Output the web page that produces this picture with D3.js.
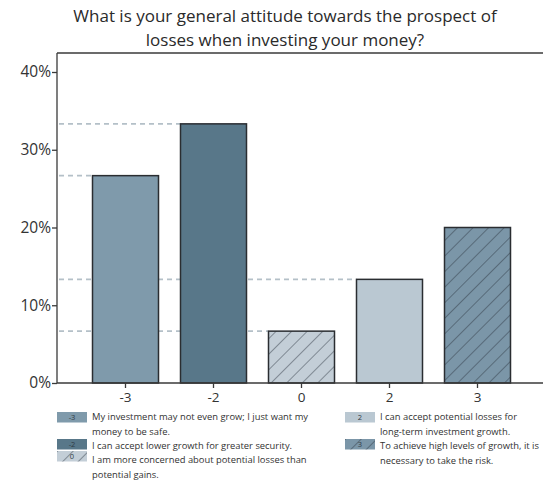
<!DOCTYPE html>
<html>
<head>
<meta charset="utf-8">
<script src="https://cdn.jsdelivr.net/npm/d3@7"></script>
<style>
  body { margin: 0; background: #fff; }
  svg { display: block; font-family: "Open Sans", "Noto Sans", sans-serif; }
</style>
</head>
<body>
<svg id="chart" width="543" height="483"></svg>
<script>
// Survey answers on a -3..3 attitude scale (share of respondents)
const categories = ["-3", "-2", "0", "2", "3"];
const shares = [26.67, 33.33, 6.67, 13.33, 20.0];
const yTicks = [0, 10, 20, 30, 40];
const titleLines = [
  "What is your general attitude towards the prospect of",
  "losses when investing your money?"
];
const legendText = [
  ["My investment may not even grow; I just want my", "money to be safe."],
  ["I can accept lower growth for greater security."],
  ["I am more concerned about potential losses than", "potential gains."],
  ["I can accept potential losses for", "long-term investment growth."],
  ["To achieve high levels of growth, it is", "necessary to take the risk."]
];
// which answers get a dashed guide back to the axis
const guideCats = ["-3", "-2", "0", "2"];

const fills = { "-3": "#7f9aab", "-2": "#587789", "0": "#c3ced7", "2": "#bac8d2", "3": "#7b96a8" };
const hatched = { "0": true, "3": true };

const svg = d3.select("#chart");
const plotLeft = 57, plotTop = 53, plotRight = 543, plotBottom = 383;

const defs = svg.append("defs");
const hatch = defs.append("pattern")
  .attr("id", "hatch").attr("patternUnits", "userSpaceOnUse")
  .attr("width", 11).attr("height", 11)
  .attr("patternTransform", "rotate(45)");
hatch.append("line").attr("x1", 0).attr("y1", 0).attr("x2", 0).attr("y2", 11)
  .attr("stroke", "#2b3540").attr("stroke-width", 0.9);

const x = d3.scaleBand().domain(categories).range([81.5, 521.5])
  .paddingInner(0.25).paddingOuter(0.125);
const y = d3.scaleLinear().domain([0, 40]).range([plotBottom, 72]);

// title
svg.append("g").selectAll("text").data(titleLines).join("text")
  .attr("x", 285).attr("y", (d, i) => 22 + i * 24)
  .attr("text-anchor", "middle").attr("font-size", 17).attr("fill", "#2a2a2a")
  .text(d => d);

// dashed guides from the axis to each bar's top
const data = categories.map((c, i) => ({ c, v: shares[i] }));
svg.append("g").selectAll("line").data(data.filter(d => guideCats.includes(d.c))).join("line")
  .attr("x1", plotLeft + 2).attr("x2", d => x(d.c))
  .attr("y1", d => y(d.v)).attr("y2", d => y(d.v))
  .attr("stroke", "#b4c0c8").attr("stroke-width", 1.6).attr("stroke-dasharray", "5,4");

// bars
const bars = svg.append("g");
bars.selectAll("rect.base").data(data).join("rect").attr("class", "base")
  .attr("x", d => x(d.c)).attr("width", x.bandwidth())
  .attr("y", d => y(d.v)).attr("height", d => y(0) - y(d.v))
  .attr("fill", d => fills[d.c]);
bars.selectAll("rect.hatch").data(data.filter(d => hatched[d.c])).join("rect").attr("class", "hatch")
  .attr("x", d => x(d.c)).attr("width", x.bandwidth())
  .attr("y", d => y(d.v)).attr("height", d => y(0) - y(d.v))
  .attr("fill", "url(#hatch)");
bars.selectAll("rect.edge").data(data).join("rect").attr("class", "edge")
  .attr("x", d => x(d.c)).attr("width", x.bandwidth())
  .attr("y", d => y(d.v)).attr("height", d => y(0) - y(d.v))
  .attr("fill", "none").attr("stroke", "#2a2d31").attr("stroke-width", 1.5);

// frame line along the top
svg.append("line").attr("x1", plotLeft).attr("x2", plotRight).attr("y1", plotTop).attr("y2", plotTop)
  .attr("stroke", "#3a3a3a").attr("stroke-width", 1.3);

// y axis
const yAxis = svg.append("g").attr("transform", `translate(${plotLeft},0)`)
  .call(d3.axisLeft(y).tickValues(yTicks).tickFormat(d => d + "%").tickSize(5).tickPadding(1));
yAxis.select(".domain").attr("d", `M0,${plotTop}V${plotBottom}`);
yAxis.selectAll("path, line").attr("stroke", "#3a3a3a").attr("stroke-width", 1.3);
yAxis.selectAll("text").attr("font-size", 15.5).attr("fill", "#333").attr("font-family", "Open Sans, sans-serif");

// x axis
const xAxis = svg.append("g").attr("transform", `translate(0,${plotBottom})`)
  .call(d3.axisBottom(x).tickSize(5).tickPadding(4));
xAxis.select(".domain").attr("d", `M${plotLeft},0H${plotRight}`);
xAxis.selectAll("path, line").attr("stroke", "#3a3a3a").attr("stroke-width", 1.3);
xAxis.selectAll("text").attr("font-size", 13.5).attr("fill", "#333").attr("font-family", "Open Sans, sans-serif");

// legend: swatch position and first-line baseline per entry
const legendPos = [
  { x: 57, y: 412, t: 420 }, { x: 57, y: 439, t: 449 }, { x: 57, y: 451, t: 463 },
  { x: 345, y: 412, t: 420 }, { x: 345, y: 439, t: 449 }
];
const leg = svg.append("g");
categories.forEach((c, i) => {
  const p = legendPos[i];
  const g = leg.append("g").attr("transform", `translate(${p.x},${p.y})`);
  g.append("rect").attr("width", 30).attr("height", 10.5).attr("fill", fills[c]);
  if (hatched[c]) g.append("rect").attr("width", 30).attr("height", 10.5).attr("fill", "url(#hatch)");
  g.append("text").attr("x", 15).attr("y", 8.3).attr("text-anchor", "middle")
    .attr("font-size", 7.5).attr("fill", "#2f3a44").text(c);
  g.selectAll("text.lbl").data(legendText[i]).join("text").attr("class", "lbl")
    .attr("x", 35).attr("y", (d, j) => p.t - p.y + j * 14.5)
    .attr("font-size", 9.4).attr("fill", "#333").text(d => d);
});
</script>
</body>
</html>
